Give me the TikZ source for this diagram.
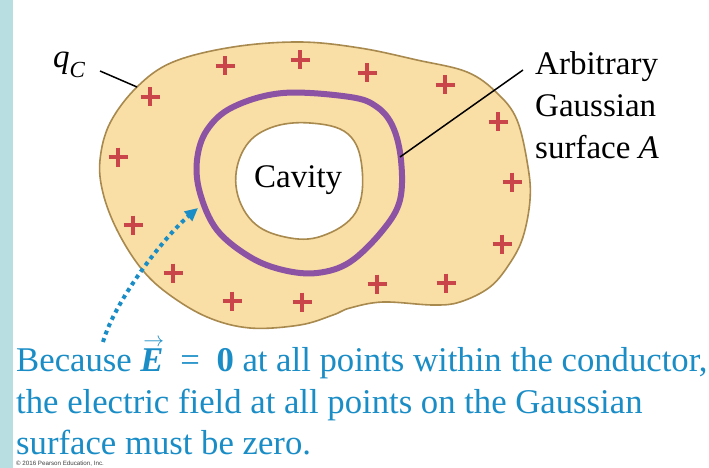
\documentclass[tikz,border=0pt]{standalone}
\usepackage{fontspec}
\setmainfont{Liberation Serif}
\newfontfamily\smallsans{Liberation Sans}
\usetikzlibrary{arrows.meta}
\definecolor{stripblue}{HTML}{B8DEE1}
\definecolor{condfill}{HTML}{F9DEA6}
\definecolor{condedge}{HTML}{A8894E}
\definecolor{gausspurple}{HTML}{8C52A3}
\definecolor{plusred}{HTML}{C9454A}
\definecolor{capblue}{HTML}{1A8DC6}
\tikzset{
  plussign/.style={draw=plusred, line width=3.2pt},
  leader/.style={draw=black, line width=1.5pt},
  lbl/.style={inner sep=0pt, anchor=base west, font=\fontsize{33}{40}\selectfont},
  caption/.style={inner sep=0pt, anchor=base west, text=capblue, font=\fontsize{34.7}{40}\selectfont},
}
\newcommand{\plusat}[2]{\draw[plussign] (#1-9.5,#2) -- (#1+9.5,#2) (#1,#2-9.5) -- (#1,#2+9.5);}
\newcommand{\vecE}{\makebox[0pt][l]{\hspace{0.08em}\raisebox{0.72em}{\fontsize{20.74}{20}\selectfont$\rightarrow$}}{\bfseries\itshape E}}
\begin{document}
\begin{tikzpicture}[x=1pt,y=-1pt]
\useasboundingbox (0,0) rectangle (709,468);
\fill[stripblue] (0,0) rectangle (13,468);
% conductor
\draw[fill=condfill, draw=condedge, line width=1.6pt] plot[smooth cycle, tension=0.6] coordinates {
 (300,42) (360,48) (417,60) (467,72) (497,93) (517,120) (528,167) (530,200) (523,237) (510,263)
 (490,287) (460,302) (433,305) (383,302) (350,308) (333,315) (300,325) (250,328) (207,317)
 (167,293) (140,267) (117,230) (103,193) (100,160) (110,123) (137,87) (173,62) (233,47)};
% cavity
\draw[fill=white, draw=condedge, line width=1.6pt] plot[smooth cycle, tension=0.65] coordinates {
 (310,123) (348,134) (362,168) (356,212) (322,236) (285,237) (252,221) (236,186) (244,149) (270,128)};
% gaussian surface
\draw[draw=gausspurple, line width=6pt] plot[smooth cycle, tension=0.6] coordinates {
 (283,93) (350,97) (377,107) (393,127) (401,160) (400,200) (383,230) (350,262) (317,273)
 (283,270) (250,257) (217,230) (200,193) (197,160) (207,130) (233,107)};
% plus signs
\plusat{225}{66}\plusat{300}{60}\plusat{367}{73}\plusat{445}{85}
\plusat{150}{97}\plusat{118}{157}\plusat{498}{122}\plusat{512}{182}
\plusat{133}{225}\plusat{502}{244}\plusat{173}{273}\plusat{232}{301}
\plusat{302}{302}\plusat{377}{284}\plusat{446}{283}
% labels
\node[lbl] (cav) at (254,187) {Cavity};
\node[lbl] (qc) at (53,68) {\itshape q\raisebox{-0.28em}{\fontsize{23}{23}\selectfont C}};
\coordinate (qcend) at (137,87);
\coordinate (qcstart) at (100,71);
\draw[leader] (qcstart) -- (qcend);
\node[lbl] (arb) at (535,75) {Arbitrary};
\node[lbl] (gau) at (535,117) {Gaussian};
\node[lbl] (sur) at (535,158) {surface \textit{A}};
\coordinate (ringpt) at (400,157);
\coordinate (arbpt) at (523,70);
\draw[leader] (ringpt) -- (arbpt);
% caption
\node[caption] (c1) at (16,371) {Because \vecE\hspace{0.48em}=\hspace{0.48em}\textbf{0} at all points within the conductor,};
\node[caption] (c2) at (16,413) {the electric field at all points on the Gaussian};
\node[caption] (c3) at (16,454) {surface must be zero.};
\node[inner sep=0pt, anchor=base west, font=\smallsans\fontsize{6.2}{7}\selectfont, text=black!75] (copy) at (16,465.5) {\textcopyright{} 2016 Pearson Education, Inc.};
% dotted arrow
\coordinate (arrstart) at (103,342);
\coordinate (arrtip) at (198,208);
\draw[capblue, line width=4pt, dash pattern=on 4pt off 4pt, -{Triangle[length=13pt,width=12pt]}]
  (arrstart) .. controls (115,300) and (165,236) .. (arrtip);
\end{tikzpicture}
\end{document}
